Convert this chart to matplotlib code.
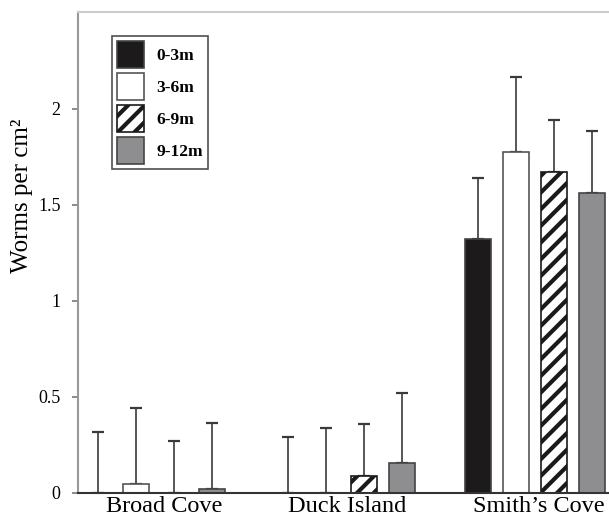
import numpy as np
import matplotlib
matplotlib.use('Agg')
import matplotlib.pyplot as plt
from matplotlib.patches import Patch

plt.rcParams['font.family'] = ['Liberation Serif', 'DejaVu Serif']
plt.rcParams['hatch.linewidth'] = 3.0

# data
sites = ['Broad Cove', 'Duck Island', "Smith\u2019s Cove"]
depths = ['0-3m', '3-6m', '6-9m', '9-12m']
means = {
    '0-3m':  [0.0, 0.0, 1.32],
    '3-6m':  [0.047, 0.0, 1.776],
    '6-9m':  [0.0, 0.087, 1.672],
    '9-12m': [0.02, 0.157, 1.562],
}
upper = {  # top of the error bar
    '0-3m':  [0.318, 0.29, 1.64],
    '3-6m':  [0.44, 0.34, 2.167],
    '6-9m':  [0.27, 0.36, 1.943],
    '9-12m': [0.365, 0.52, 1.885],
}

styles = {
    '0-3m':  dict(color='#1c1a1b', hatch=None, edge='#444444'),
    '3-6m':  dict(color='white', hatch=None, edge='#555555'),
    '6-9m':  dict(color='white', hatch='//', edge='#1a1a1a'),
    '9-12m': dict(color='#8e8e90', hatch=None, edge='#444444'),
}

fig = plt.figure(figsize=(6.09, 5.2), dpi=100)
ax = fig.add_axes([0.128, 0.052, 0.872, 0.925])

x = np.arange(len(sites))
offsets = [-0.3, -0.1, 0.1, 0.3]
width = 0.137
for d, off in zip(depths, offsets):
    m = np.array(means[d])
    err = np.array(upper[d]) - m
    st = styles[d]
    ax.bar(x + off, m, width, color=st['color'], hatch=st['hatch'],
           edgecolor=st['edge'], linewidth=1.2, zorder=2)
    ax.errorbar(x + off, m, yerr=[np.zeros_like(err), err], fmt='none',
                ecolor='#3a3a3a', elinewidth=1.2, capsize=4, capthick=1.6,
                zorder=1)

ax.set_ylim(0, 2.505)
ax.set_xlim(-0.408, 2.387)
ax.set_yticks([0, 0.5, 1, 1.5, 2])
ax.set_yticklabels(['0', '0.5', '1', '1.5', '2'], fontsize=13)
# labels sit slightly right of the group centres in the original
ax.set_xticks(x + np.array([0.045, 0.01, 0.02]))
ax.set_xticklabels(sites, fontsize=17.5)
ax.tick_params(axis='x', length=0, pad=2.5)
ax.tick_params(axis='y', length=4, width=1.2, color='#777777', pad=8.5,
               direction='out')
ax.spines['right'].set_visible(False)
ax.spines['top'].set_color('#cccccc')
ax.spines['top'].set_linewidth(1.5)
ax.spines['left'].set_color('#999999')
ax.spines['left'].set_linewidth(1.5)
ax.spines['bottom'].set_color('#333333')
ax.spines['bottom'].set_linewidth(1.5)

fig.text(0.036, 0.623, 'Worms per cm\u00b2', rotation=90, fontsize=18,
         ha='center', va='center')

handles = [Patch(facecolor=styles[d]['color'], hatch=styles[d]['hatch'],
                 edgecolor=styles[d]['edge'], linewidth=1.2) for d in depths]
leg = ax.legend(handles, depths, loc='upper left',
                bbox_to_anchor=(0.064, 0.95), borderaxespad=0,
                frameon=True, fancybox=False,
                edgecolor='#222222', handlelength=1.55, handleheight=2.0,
                labelspacing=0.29, handletextpad=0.7, borderpad=0.3,
                prop={'weight': 'bold', 'size': 12.5})
leg.get_frame().set_linewidth(1.2)

fig.savefig('out.png', dpi=100)
